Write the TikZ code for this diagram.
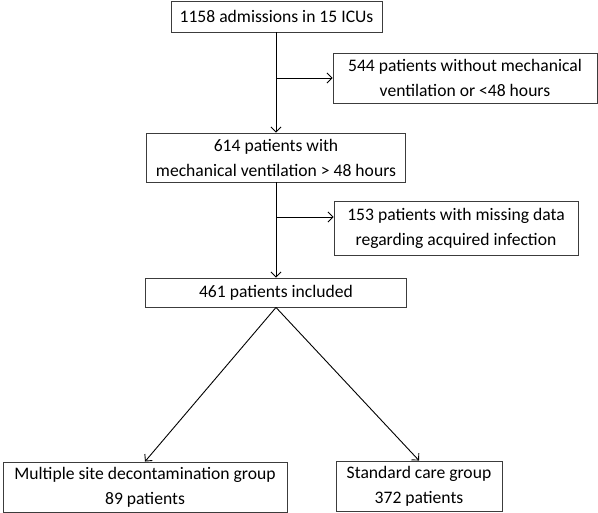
\documentclass[tikz,border=0pt]{standalone}
\usepackage{fontspec}
\setmainfont{Carlito}
\usepackage{tikz}
\usetikzlibrary{positioning,shapes,arrows.meta}
\definecolor{boxline}{RGB}{60,60,60}

\begin{document}
\begin{tikzpicture}[x=1pt, y=-1pt, auto, >={Straight Barb[length=5pt,width=10pt]},
    flowbox/.style={draw=boxline, line width=0.9pt, rectangle, align=center, inner sep=0pt,
        font=\fontsize{17.6}{25}\selectfont},
    flowline/.style={line width=0.9pt}]
					\useasboundingbox (0,0) rectangle (598,513);
					\node[flowbox, minimum width=211pt, minimum height=31pt] (adm) at (276.5,16.5) {1158 admissions in 15 ICUs};
					\node[flowbox, minimum width=264pt, minimum height=50pt] (excl1) at (465,78) {544 patients without mechanical\\ventilation or <48 hours};
					\node[flowbox, minimum width=259pt, minimum height=49pt] (vent) at (276,157.5) {614 patients with\\mechanical ventilation > 48 hours};
					\node[flowbox, minimum width=244pt, minimum height=54pt] (excl2) at (456,228) {153 patients with missing data\\regarding acquired infection};
					\node[flowbox, minimum width=261pt, minimum height=29pt] (incl) at (276,292.5) {461 patients included};
					\node[flowbox, minimum width=284pt, minimum height=50pt] (msd) at (145,487) {Multiple site decontamination group\\89 patients};
					\node[flowbox, minimum width=166pt, minimum height=50pt] (std) at (419,486) {Standard care group\\372 patients};
					
					\coordinate (split1) at (276,78);
					\coordinate (split2) at (276,217);
					
					\draw[flowline, ->] (adm.south -| split1) -- (vent.north -| split1);
					\draw[flowline, ->] (split1) -- (excl1.west |- split1);
					\draw[flowline, ->] (vent.south -| split2) -- (incl.north -| split2);
					\draw[flowline, ->] (split2) -- (excl2.west |- split2);
					\draw[flowline, ->] (incl.south -| split2) -- (msd.north);
					\draw[flowline, ->] (incl.south -| split2) -- (std.north);
				\end{tikzpicture}
\end{document}
